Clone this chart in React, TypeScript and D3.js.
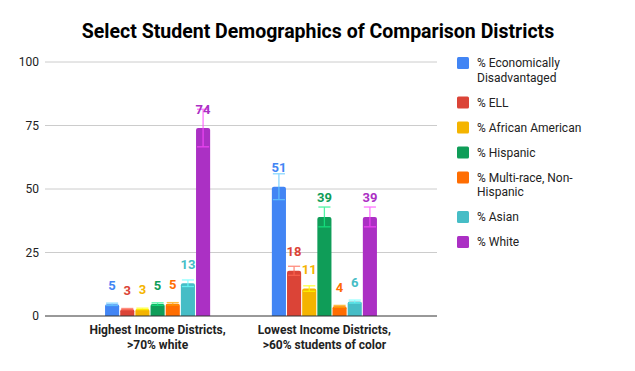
import React from 'react';
import * as d3 from 'd3';

const categories = [
  ['Highest Income Districts,', '>70% white'],
  ['Lowest Income Districts,', '>60% students of color'],
];
const seriesNames = [
  '% Economically Disadvantaged',
  '% ELL',
  '% African American',
  '% Hispanic',
  '% Multi-race, Non-Hispanic',
  '% Asian',
  '% White',
];
const legendLines = [
  ['% Economically', 'Disadvantaged'],
  ['% ELL'],
  ['% African American'],
  ['% Hispanic'],
  ['% Multi-race, Non-', 'Hispanic'],
  ['% Asian'],
  ['% White'],
];
const colors = ['#4285f4', '#db4437', '#f4b400', '#0f9d58', '#ff6d01', '#46bdc6', '#ab30c4'];
const highIncome = [4.6, 2.7, 2.8, 4.7, 4.8, 12.9, 74];
const lowIncome = [50.9, 17.8, 10.8, 39, 3.8, 5.7, 39];
const yTicks = [0, 25, 50, 75, 100];
const errorPct = 0.1;

const W = 635;
const H = 371;
const left = 45;
const right = 437;
const top = 62;
const bottom = 316;
const font = 'Roboto, "Noto Sans", sans-serif';

const topRounded = (x: number, y: number, w: number, h: number, r: number) => {
  const rr = Math.min(r, h, w / 2);
  return `M${x},${y + h}V${y + rr}Q${x},${y} ${x + rr},${y}H${x + w - rr}Q${x + w},${y} ${x + w},${y + rr}V${y + h}Z`;
};

const App = () => {
  const data = [highIncome, lowIncome];
  const x0 = d3
    .scaleBand<number>()
    .domain(d3.range(categories.length))
    .range([left, right])
    .paddingInner(0.37)
    .paddingOuter(0.36);
  const x1 = d3
    .scaleBand<number>()
    .domain(d3.range(seriesNames.length))
    .range([0, x0.bandwidth()])
    .paddingInner(0.07);
  const y = d3.scaleLinear().domain([0, 100]).range([bottom, top]);
  const fmt = d3.format('.0f');

  // legend rows
  let ly = 63;
  const legendPos = legendLines.map(lines => {
    const p = ly;
    ly += 25 + (lines.length - 1) * 14.5;
    return p;
  });

  return (
    <svg width={W} height={H} style={{ position: 'absolute', left: 0, top: 0, fontFamily: font }}>
      <rect width={W} height={H} fill="#fff" />
      <text x={318} y={37.5} textAnchor="middle" fontSize={19.5} fontWeight="bold" fill="#000">
        Select Student Demographics of Comparison Districts
      </text>

      {yTicks.map(t => (
        <g key={t}>
          {t > 0 && <line x1={left} x2={right} y1={y(t)} y2={y(t)} stroke="#cccccc" strokeWidth={1} />}
          <text x={39} y={y(t)} dy="0.35em" textAnchor="end" fontSize={12} fill="#222">
            {t}
          </text>
        </g>
      ))}

      {data.map((vals, ci) => (
        <g key={ci} transform={`translate(${x0(ci)},0)`}>
          {vals.map((v, si) => {
            const bx = x1(si)!;
            const bw = x1.bandwidth();
            const c = colors[si];
            const hi = v * (1 + errorPct);
            const lo = v * (1 - errorPct);
            const cx = bx + bw / 2;
            const errC = d3.color(c)!.brighter(1.2).formatHex();
            return (
              <g key={si}>
                <path d={topRounded(bx, y(v), bw, bottom - y(v), 2)} fill={c} />
                <g stroke={errC} strokeWidth={1.3} opacity={0.75}>
                  <line x1={cx} x2={cx} y1={y(hi)} y2={y(lo)} />
                  <line x1={bx + 1} x2={bx + bw - 1} y1={y(hi)} y2={y(hi)} />
                  <line x1={bx + 1} x2={bx + bw - 1} y1={y(lo)} y2={y(lo)} />
                </g>
                <text x={cx} y={y(v) - 19} dy="0.35em" textAnchor="middle" fontSize={13} fontWeight="bold" fill={c}>
                  {fmt(v)}
                </text>
              </g>
            );
          })}
        </g>
      ))}

      <line x1={left} x2={right} y1={bottom} y2={bottom} stroke="#333" strokeWidth={1} />

      {categories.map((lines, ci) => (
        <text key={ci} textAnchor="middle" fontSize={12} fontWeight="bold" fill="#222">
          {lines.map((l, k) => (
            <tspan key={k} x={x0(ci)! + x0.bandwidth() / 2} y={334 + k * 14.5}>
              {l}
            </tspan>
          ))}
        </text>
      ))}

      {legendLines.map((lines, i) => (
        <g key={seriesNames[i]}>
          <rect x={457} y={legendPos[i] - 6} width={12} height={12} rx={1.5} fill={colors[i]} />
          <text fontSize={12} fill="#222">
            {lines.map((l, k) => (
              <tspan key={k} x={477} y={legendPos[i] + k * 14.5} dy="0.35em">
                {l}
              </tspan>
            ))}
          </text>
        </g>
      ))}
    </svg>
  );
};

export default App;
